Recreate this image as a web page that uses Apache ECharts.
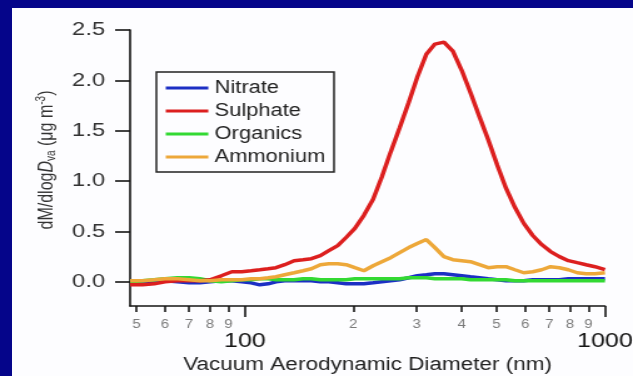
<!DOCTYPE html>
<html>
<head>
<meta charset="utf-8">
<script src="https://cdn.jsdelivr.net/npm/echarts@6/dist/echarts.min.js"></script>
<style>
  html, body { margin: 0; padding: 0; overflow: hidden; background: #fdfdff; }
  #frame { position: relative; width: 100vw; height: 376px; background: #fdfdff; overflow: hidden; }
  .edge { position: absolute; background: #05058a; }
  #edgeTop { left: 0; top: 0; width: 100%; height: 8px; }
  #edgeLeft { left: 0; top: 0; width: 12px; height: 100%; }
  /* the figure is drawn at a narrower width and stretched horizontally */
  #chart { position: absolute; left: 0; top: 0; width: 506px; height: 376px;
           transform: scaleX(1.251); transform-origin: 0 0; }
</style>
</head>
<body>
<div id="frame"><div class="edge" id="edgeTop"></div><div class="edge" id="edgeLeft"></div><div id="chart"></div></div>
<script>
// Vacuum aerodynamic diameter bins (nm)
const diameters = [48, 52, 56, 60, 65, 70, 75, 80, 86, 92, 98, 104, 110, 116, 122, 129, 137, 145, 153, 162,
  171, 181, 191, 202, 214, 227, 240, 254, 269, 285, 301, 319, 337, 357, 378, 400, 423, 448, 474, 502,
  531, 562, 595, 630, 667, 706, 747, 791, 837, 886, 938, 1000];

// dM/dlogDva (ug m-3) for each species
const nitrate = [0.0, 0.0, 0.0, 0.01, 0.0, -0.01, -0.01, 0.0, 0.01, 0.01, 0.0, -0.01, -0.03, -0.02, 0.0, 0.01,
  0.01, 0.01, 0.01, 0.0, 0.0, -0.01, -0.02, -0.02, -0.02, -0.01, 0.0, 0.01, 0.02, 0.04, 0.06, 0.07, 0.08,
  0.08, 0.07, 0.06, 0.05, 0.04, 0.03, 0.02, 0.01, 0.01, 0.01, 0.02, 0.02, 0.02, 0.02, 0.03, 0.03, 0.03, 0.03, 0.03];
const sulphate = [-0.03, -0.03, -0.02, 0.0, 0.01, 0.01, 0.01, 0.02, 0.06, 0.10, 0.10, 0.11, 0.12, 0.13, 0.14,
  0.17, 0.21, 0.22, 0.23, 0.26, 0.31, 0.36, 0.44, 0.53, 0.66, 0.82, 1.04, 1.29, 1.53, 1.78, 2.03, 2.26, 2.36,
  2.38, 2.29, 2.10, 1.88, 1.64, 1.41, 1.16, 0.93, 0.74, 0.58, 0.46, 0.37, 0.30, 0.25, 0.21, 0.19, 0.17, 0.15, 0.12];
const organics = [0.0, 0.01, 0.02, 0.03, 0.04, 0.04, 0.03, 0.01, 0.0, 0.01, 0.02, 0.02, 0.03, 0.03, 0.02, 0.02,
  0.02, 0.03, 0.03, 0.02, 0.02, 0.02, 0.02, 0.03, 0.03, 0.03, 0.03, 0.03, 0.03, 0.04, 0.04, 0.04, 0.03, 0.03,
  0.03, 0.03, 0.02, 0.02, 0.02, 0.02, 0.02, 0.01, 0.01, 0.01, 0.01, 0.01, 0.01, 0.01, 0.01, 0.01, 0.01, 0.01];
const ammonium = [0.01, 0.01, 0.02, 0.03, 0.03, 0.02, 0.01, 0.01, 0.02, 0.02, 0.02, 0.03, 0.03, 0.04, 0.05,
  0.07, 0.09, 0.11, 0.13, 0.17, 0.18, 0.18, 0.17, 0.14, 0.11, 0.16, 0.20, 0.24, 0.29, 0.34, 0.38, 0.42, 0.34,
  0.25, 0.22, 0.21, 0.20, 0.17, 0.14, 0.15, 0.15, 0.12, 0.09, 0.10, 0.12, 0.15, 0.14, 0.12, 0.09, 0.08, 0.08, 0.09];

// axis ticks
const yTicks = [0, 0.5, 1.0, 1.5, 2.0, 2.5];
const xMinorTicks = [50, 60, 70, 80, 90, 200, 300, 400, 500, 600, 700, 800, 900];
const xMajorTicks = [100, 1000];
const xMin = 48, xMax = 1000, yMin = -0.24, yMax = 2.5;

const FONT = "'Liberation Sans', Arial, Helvetica, sans-serif";
const lg = Math.log10;

// the diameter axis is logarithmic: positions are placed on log10(D)
const pairs = vals => diameters.map((d, i) => [lg(d), vals[i]]);

const axisLineStyle = { color: '#151515', width: 1.6 };

const chart = echarts.init(document.getElementById('chart'), null, { renderer: 'canvas' });
chart.setOption({
  animation: false,
  backgroundColor: 'transparent',
  grid: { left: 104, right: 22.4, top: 30, bottom: 70, containLabel: false, outerBoundsMode: 'none' },
  legend: {
    data: ['Nitrate', 'Sulphate', 'Organics', 'Ammonium'],
    orient: 'vertical', left: 125, top: 72,
    icon: 'rect', itemWidth: 34, itemHeight: 3, itemGap: 5,
    borderColor: '#222', borderWidth: 1.5, padding: [7, 7, 6, 7.5],
    textStyle: { fontFamily: FONT, fontSize: 17.5, lineHeight: 17, color: '#222' }
  },
  xAxis: [
    {
      type: 'value', min: lg(xMin), max: lg(xMax),
      axisLine: { show: true, onZero: false, lineStyle: axisLineStyle },
      axisTick: { show: true, customValues: xMinorTicks.map(lg), length: 6, lineStyle: axisLineStyle },
      axisLabel: {
        customValues: xMinorTicks.map(lg), margin: 13, color: '#7a7a7a', fontSize: 12, fontFamily: FONT,
        formatter: v => { const d = Math.round(Math.pow(10, v)); return String(Math.round(d / (d >= 100 ? 100 : 10))); }
      },
      splitLine: { show: false },
      name: 'Vacuum Aerodynamic Diameter (nm)', nameLocation: 'middle', nameGap: 50,
      nameTextStyle: { fontFamily: FONT, fontSize: 18, color: '#222' }
    },
    {
      type: 'value', min: lg(xMin), max: lg(xMax), position: 'bottom', offset: 0,
      axisLine: { show: false, onZero: false },
      axisTick: { show: true, customValues: xMajorTicks.map(lg), length: 11, lineStyle: axisLineStyle },
      axisLabel: {
        customValues: xMajorTicks.map(lg), margin: 25, color: '#151515', fontSize: 20, fontFamily: FONT,
        formatter: v => String(Math.round(Math.pow(10, v)))
      },
      splitLine: { show: false }
    }
  ],
  yAxis: {
    type: 'value', min: yMin, max: yMax,
    axisLine: { show: true, onZero: false, lineStyle: axisLineStyle },
    axisTick: { show: true, customValues: yTicks, length: 12, lineStyle: axisLineStyle },
    axisLabel: { customValues: yTicks, margin: 20, color: '#333', fontSize: 19, fontFamily: FONT,
      formatter: v => v.toFixed(1) },
    splitLine: { show: false },
    name: 'dM/dlog{it|D}{sub|va} (\u03bcg m{sup|-3})',
    nameLocation: 'middle', nameGap: 58, nameRotate: 90,
    nameTextStyle: {
      fontFamily: FONT, fontSize: 16, color: '#333', padding: [0, 0, 0, 16],
      rich: {
        it: { fontFamily: FONT, fontSize: 16, fontStyle: 'italic', color: '#333' },
        sub: { fontFamily: FONT, fontSize: 10, lineHeight: 10, padding: [8, 0, 0, 0], color: '#333' },
        sup: { fontFamily: FONT, fontSize: 10, lineHeight: 10, padding: [0, 0, 8, 0], color: '#333' }
      }
    }
  },
  series: [
    { name: 'Nitrate', type: 'line', data: pairs(nitrate), color: '#1c2fc4', showSymbol: false, symbol: 'none',
      lineStyle: { width: 3.5, color: '#1c2fc4' }, z: 2 },
    { name: 'Organics', type: 'line', data: pairs(organics), color: '#33d933', showSymbol: false, symbol: 'none',
      lineStyle: { width: 3.5, color: '#33d933' }, z: 3 },
    { name: 'Sulphate', type: 'line', data: pairs(sulphate), color: '#dc1f1f', showSymbol: false, symbol: 'none',
      lineStyle: { width: 3.5, color: '#dc1f1f' }, z: 4 },
    { name: 'Ammonium', type: 'line', data: pairs(ammonium), color: '#eda83a', showSymbol: false, symbol: 'none',
      lineStyle: { width: 3.5, color: '#eda83a' }, z: 5 }
  ]
});
</script>
</body>
</html>
